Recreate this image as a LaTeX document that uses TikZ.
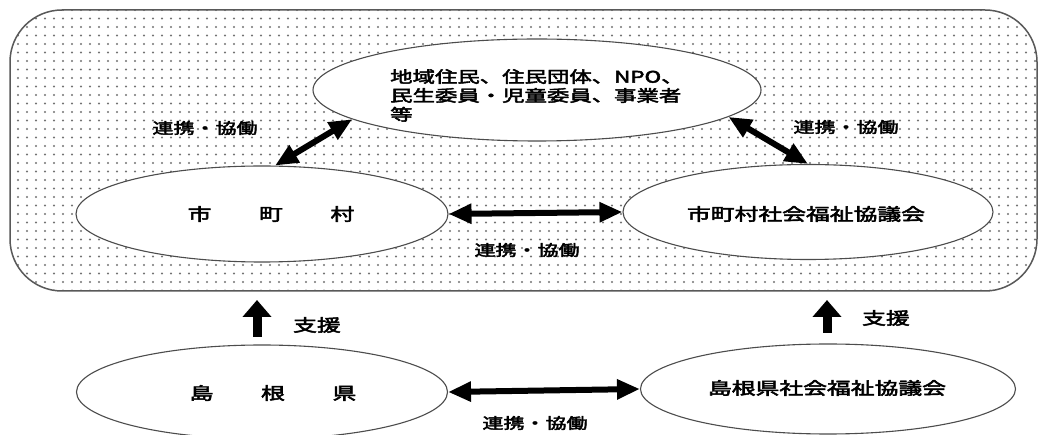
\documentclass[tikz,border=0pt]{standalone}
\usepackage{fontspec}
\usepackage{graphicx}
\newfontfamily\cjk[FakeBold=2.6]{Noto Sans CJK JP}
\usetikzlibrary{arrows.meta,shapes.geometric,patterns}
\pgfdeclarepatternformonly{mydots}{\pgfqpoint{-1.5pt}{-1.5pt}}{\pgfqpoint{1.5pt}{1.5pt}}{\pgfqpoint{9pt}{8.5pt}}{\pgfpathcircle{\pgfqpoint{0pt}{0pt}}{1.2pt}\pgfusepath{fill}}
\newcommand\sxt[2]{\scalebox{1.4}[1]{\fontsize{#1}{#1}\selectfont #2}}
\begin{document}
\begin{tikzpicture}[x=1pt,y=-1pt,
  outerbox/.style={draw=black!65, line width=1.5pt, rounded corners=52pt,
    minimum width=1027pt, minimum height=281pt, inner sep=0pt,
    pattern=mydots, pattern color=black!55},
  ell/.style={ellipse, draw=black!70, line width=1.1pt, fill=white, inner sep=0pt},
  txt/.style={inner sep=0pt, font=\cjk},
  dbl/.style={line width=6pt, {Triangle[length=23pt,width=19pt]}-{Triangle[length=23pt,width=19pt]}},
  upar/.style={line width=9pt, -{Triangle[length=17pt,width=28pt]}}
]
\useasboundingbox (0,0) rectangle (1039,435);
\fill[white] (0,0) rectangle (1039,435);
\node[outerbox] (outer) at (523.5,150.5) {};

\node[ell, minimum width=448pt, minimum height=102pt] (top) at (537,90) {};
\node[ell, minimum width=372pt, minimum height=96pt] (mun) at (262,214) {};
\node[ell, minimum width=370pt, minimum height=95pt] (mshakyo) at (808,212) {};
\node[ell, minimum width=371pt, minimum height=94pt] (ken) at (262,392) {};
\node[ell, minimum width=375pt, minimum height=90pt] (kshakyo) at (828,389) {};

\node[txt, anchor=north west] (ttop) at (390,69)
  {\scalebox{1.4}[1]{\fontsize{16}{18}\selectfont\begin{tabular}{@{}l@{}}地域住民、住民団体、NPO、\\民生委員・児童委員、事業者\\等\end{tabular}}};
\node[txt] (tmun) at (271,214) {\sxt{17}{市　　町　　村}};
\node[txt] (tmshakyo) at (806,214) {\sxt{17}{市町村社会福祉協議会}};
\node[txt] (tken) at (273,393) {\sxt{17}{島　　根　　県}};
\node[txt] (tkshakyo) at (827,388) {\sxt{17}{島根県社会福祉協議会}};

\node[txt] (l1) at (205,128) {\sxt{15}{連携・協働}};
\node[txt] (l2) at (846,127) {\sxt{15}{連携・協働}};
\node[txt] (l3) at (527,250) {\sxt{15}{連携・協働}};
\node[txt] (l4) at (535,423) {\sxt{15}{連携・協働}};
\node[txt] (s1) at (317,325) {\sxt{17}{支援}};
\node[txt] (s2) at (886,318) {\sxt{17}{支援}};

\draw[dbl] (mun.75) -- (top.189);
\draw[dbl] (top.352) -- (mshakyo.north);
\draw[dbl] (mun.east) -- (mshakyo.west);
\draw[dbl] (ken.east) -- (kshakyo.west);

\coordinate (ua1s) at (257,337);
\coordinate (ua1e) at (257,300);
\coordinate (ua2s) at (827,333);
\coordinate (ua2e) at (827,300);
\draw[upar] (ua1s) -- (ua1e);
\draw[upar] (ua2s) -- (ua2e);
\end{tikzpicture}
\end{document}
